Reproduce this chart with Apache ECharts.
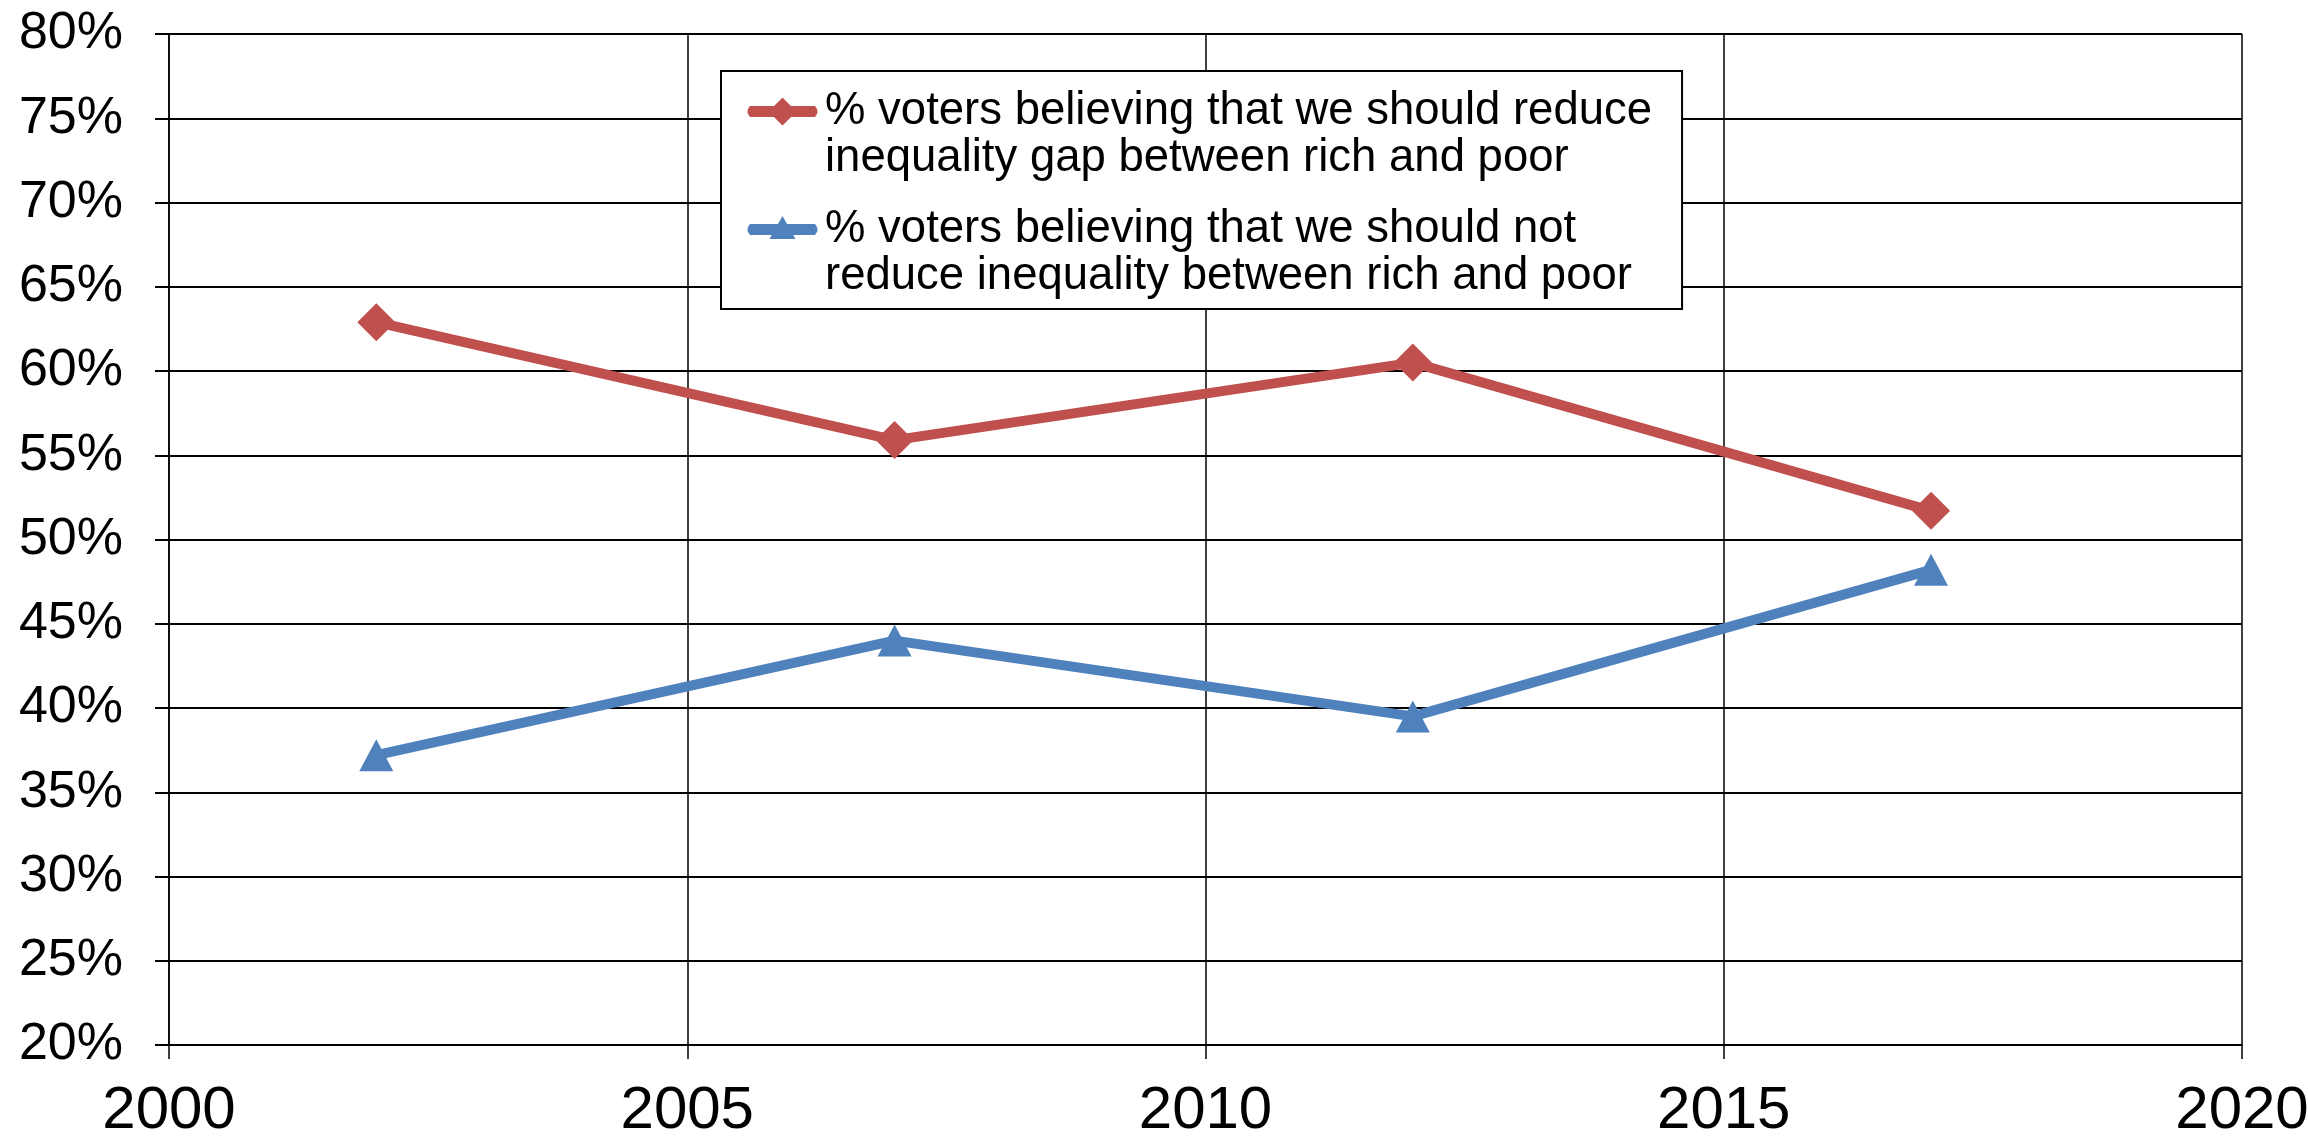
<!DOCTYPE html>
<html>
<head>
<meta charset="utf-8">
<script src="https://cdn.jsdelivr.net/npm/echarts@6/dist/echarts.min.js"></script>
<style>
html,body{margin:0;padding:0;background:#fff;}
#chart{width:2308px;height:1136px;}
</style>
</head>
<body>
<div id="chart"></div>
<script>
const years = [2002, 2007, 2012, 2017];
const reduceGap = [62.9, 55.9, 60.5, 51.7];
const notReduce = [37.2, 44.0, 39.5, 48.2];
const seriesNames = [
  '% voters believing that we should reduce\ninequality gap between rich and poor',
  '% voters believing that we should not\nreduce inequality between rich and poor'
];
const RED = '#C0504D';
const BLUE = '#4F81BD';
const FONT = '"Liberation Sans", Arial, sans-serif';

const pairs = (xs, ys) => xs.map((x, i) => [x, ys[i]]);

const redIcon = 'path://M0 0 L0.01 0 L0 0.01 Z M75 94 L74.99 94 L75 93.99 Z ' +
  'M5 18 L70 18 Q75 23.5 70 29 L5 29 Q0 23.5 5 18 Z ' +
  'M37.5 9.5 L51.5 23.5 L37.5 37.5 L23.5 23.5 Z';
const blueIcon = 'path://M0 0 L0.01 0 L0 0.01 Z M75 94 L74.99 94 L75 93.99 Z ' +
  'M5 18 L70 18 Q75 23.5 70 29 L5 29 Q0 23.5 5 18 Z ' +
  'M37.5 10 L50.5 33 L24.5 33 Z';

const chart = echarts.init(document.getElementById('chart'));
chart.setOption({
  animation: false,
  backgroundColor: '#fff',
  grid: { left: 169, top: 34, right: 66, bottom: 91, containLabel: false, outerBoundsMode: 'none' },
  legend: {
    orient: 'vertical',
    left: 721,
    top: 71,
    padding: [17, 30, 9, 24],
    itemGap: 24,
    itemWidth: 75,
    itemHeight: 94,
    backgroundColor: '#fff',
    borderColor: '#000',
    borderWidth: 2,
    itemStyle: { borderWidth: 0 },
    textStyle: { fontSize: 45.5, lineHeight: 47, fontFamily: FONT, color: '#000' },
    data: [
      { name: seriesNames[0], icon: redIcon },
      { name: seriesNames[1], icon: blueIcon }
    ]
  },
  xAxis: {
    type: 'value',
    min: 2000, max: 2020, interval: 5,
    axisLine: { show: true, lineStyle: { color: '#000', width: 2 } },
    axisTick: { show: true, length: 14, lineStyle: { color: '#000', width: 1.5 } },
    axisLabel: { fontSize: 60, fontFamily: FONT, color: '#000', margin: 36, formatter: (v) => String(v) },
    splitLine: { show: true, lineStyle: { color: '#000', width: 1.5 } }
  },
  yAxis: {
    type: 'value',
    min: 20, max: 80, interval: 5,
    axisLine: { show: true, lineStyle: { color: '#000', width: 1.5 } },
    axisTick: { show: true, length: 14, lineStyle: { color: '#000', width: 2 } },
    axisLabel: { fontSize: 52, fontFamily: FONT, color: '#000', margin: 46, formatter: '{value}%' },
    splitLine: { show: true, lineStyle: { color: '#000', width: 2 } }
  },
  series: [
    {
      name: seriesNames[0],
      type: 'line',
      data: pairs(years, reduceGap),
      color: RED,
      lineStyle: { color: RED, width: 10 },
      symbol: 'diamond',
      symbolSize: 38,
      itemStyle: { color: RED, borderWidth: 0 },
      z: 3
    },
    {
      name: seriesNames[1],
      type: 'line',
      data: pairs(years, notReduce),
      color: BLUE,
      lineStyle: { color: BLUE, width: 10 },
      symbol: 'triangle',
      symbolSize: [34, 32],
      itemStyle: { color: BLUE, borderWidth: 0 },
      z: 3
    }
  ]
});
</script>
</body>
</html>
